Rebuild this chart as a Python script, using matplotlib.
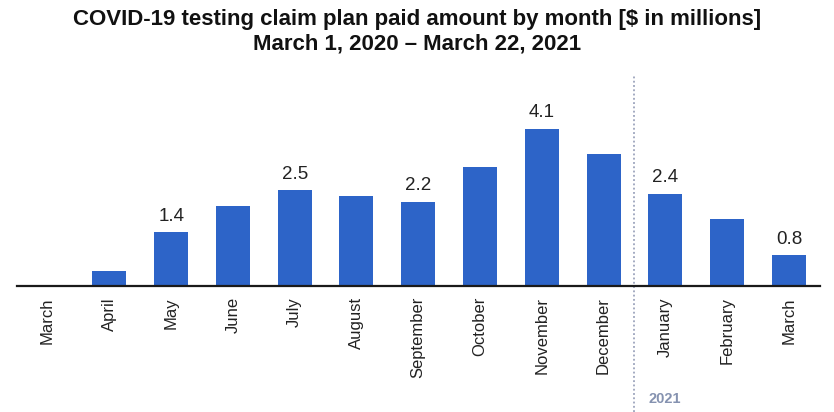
import matplotlib.pyplot as plt
import numpy as np

plt.rcParams['font.family'] = ['Liberation Sans', 'DejaVu Sans']

# monthly paid amounts, $ millions
months = ['March', 'April', 'May', 'June', 'July', 'August', 'September',
          'October', 'November', 'December', 'January', 'February', 'March']
paid = [0.0, 0.4, 1.4, 2.1, 2.5, 2.35, 2.2, 3.1, 4.1, 3.45, 2.4, 1.75, 0.8]
# only some bars carry a value label
labelled = [2, 4, 6, 8, 10, 12]

fig = plt.figure(figsize=(8.34, 4.12), dpi=100)
ax = fig.add_axes([0.020, 0.306, 0.963, 0.548])

x = np.arange(len(months))
ax.bar(x, paid, width=0.55, color='#2d64c8', zorder=2)

for i in labelled:
    ax.annotate(f'{paid[i]:.1f}', (x[i], paid[i]), xytext=(0, 5.5),
                textcoords='offset points', ha='center', va='bottom',
                fontsize=13.5, color='#222222')

ax.set_xlim(-0.5, len(months) - 0.5)
ax.set_ylim(0, 5.9)
ax.set_xticks(x)
ax.set_xticklabels(months, rotation=90, fontsize=12, color='#222222')
ax.tick_params(axis='x', length=0, pad=8)
ax.set_yticks([])
for side in ['left', 'top', 'right']:
    ax.spines[side].set_visible(False)
ax.spines['bottom'].set_linewidth(1.6)
ax.spines['bottom'].set_color('#1a1a1a')

# year divider between December and January
ax.axvline(9.5, ymin=-0.56, ymax=0.935, clip_on=False, color='#8a93b0',
           linestyle=(0, (1.2, 1.6)), linewidth=1.1, zorder=1)
ax.text(9.72, -0.5, '2021', transform=ax.get_xaxis_transform(),
        fontsize=10.5, fontweight='bold', color='#8592b0', va='center')

fig.text(0.5, 0.952, 'COVID-19 testing claim plan paid amount by month [$ in millions]',
         ha='center', va='center', fontsize=16, fontweight='bold', color='#111111')
fig.text(0.5, 0.892, 'March 1, 2020 \u2013 March 22, 2021',
         ha='center', va='center', fontsize=16, fontweight='bold', color='#111111')

fig.savefig('out.png', dpi=100)
